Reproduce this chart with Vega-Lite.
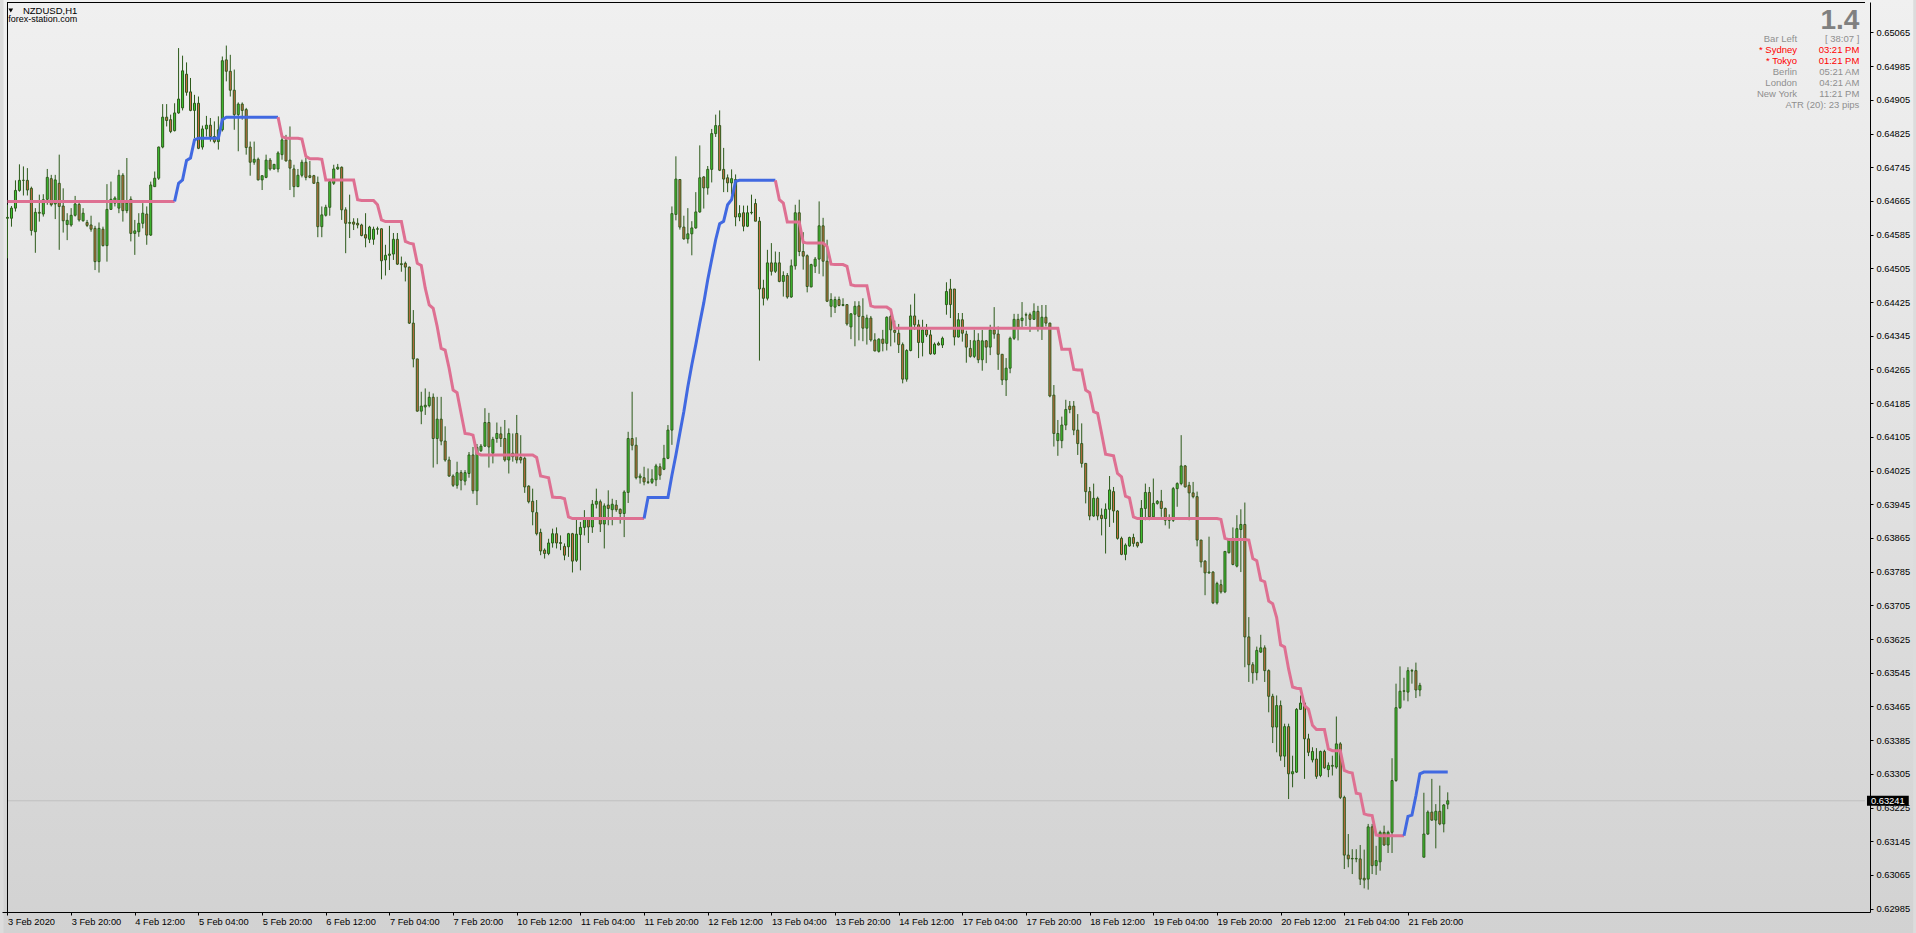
{"$schema":"https://vega.github.io/schema/vega-lite/v6.json","width":1868,"height":910,"autosize":{"type":"none"},"padding":{"left":2,"top":2,"right":46,"bottom":21},"background":"#DCDCDC","config":{"view":{"stroke":null},"axis":{"labelOverlap":false,"labelFlush":false,"labelBound":false,"grid":false,"zindex":1}},
"datasets":{"b":[
{"i":0,"o":0.64624,"h":0.64656,"l":0.64529,"c":0.64626},{"i":1,"o":0.64624,"h":0.64653,"l":0.64604,"c":0.64648},{"i":2,"o":0.64648,"h":0.64714,"l":0.6464,"c":0.6469},{"i":3,"o":0.6469,"h":0.64752,"l":0.64687,"c":0.64714},{"i":4,"o":0.64714,"h":0.64747,"l":0.64678,"c":0.64714},{"i":5,"o":0.64714,"h":0.64743,"l":0.64678,"c":0.64691},{"i":6,"o":0.64695,"h":0.64699,"l":0.64583,"c":0.64595},{"i":7,"o":0.64592,"h":0.64648,"l":0.64542,"c":0.64638},{"i":8,"o":0.64638,"h":0.6468,"l":0.64616,"c":0.64636},{"i":9,"o":0.64634,"h":0.64681,"l":0.64628,"c":0.64668},
{"i":10,"o":0.64669,"h":0.64741,"l":0.64656,"c":0.64721},{"i":11,"o":0.64718,"h":0.64727,"l":0.64652,"c":0.64656},{"i":12,"o":0.64658,"h":0.64727,"l":0.64622,"c":0.64715},{"i":13,"o":0.64707,"h":0.64775,"l":0.64549,"c":0.64652},{"i":14,"o":0.64653,"h":0.64695,"l":0.6459,"c":0.64618},{"i":15,"o":0.64609,"h":0.64636,"l":0.64572,"c":0.64619},{"i":16,"o":0.64608,"h":0.64648,"l":0.64604,"c":0.64631},{"i":17,"o":0.64631,"h":0.64677,"l":0.64628,"c":0.64658},{"i":18,"o":0.64657,"h":0.64664,"l":0.64616,"c":0.6462},{"i":19,"o":0.64618,"h":0.64648,"l":0.64616,"c":0.64636},
{"i":20,"o":0.64614,"h":0.6462,"l":0.64603,"c":0.64607},{"i":21,"o":0.64608,"h":0.6463,"l":0.64592,"c":0.64598},{"i":22,"o":0.646,"h":0.64606,"l":0.64501,"c":0.64521},{"i":23,"o":0.64521,"h":0.64614,"l":0.64495,"c":0.646},{"i":24,"o":0.64598,"h":0.64604,"l":0.64557,"c":0.64559},{"i":25,"o":0.64559,"h":0.64705,"l":0.64521,"c":0.64645},{"i":26,"o":0.64645,"h":0.64711,"l":0.64644,"c":0.64669},{"i":27,"o":0.6466,"h":0.64676,"l":0.64652,"c":0.64672},{"i":28,"o":0.64648,"h":0.64739,"l":0.64636,"c":0.64726},{"i":29,"o":0.64726,"h":0.64731,"l":0.64616,"c":0.64642},
{"i":30,"o":0.64642,"h":0.64767,"l":0.64636,"c":0.6466},{"i":31,"o":0.64669,"h":0.64676,"l":0.64569,"c":0.64588},{"i":32,"o":0.64588,"h":0.6462,"l":0.64537,"c":0.64594},{"i":33,"o":0.64592,"h":0.64636,"l":0.6458,"c":0.64612},{"i":34,"o":0.64612,"h":0.6466,"l":0.646,"c":0.64636},{"i":35,"o":0.64634,"h":0.64652,"l":0.64561,"c":0.64584},{"i":36,"o":0.64584,"h":0.64711,"l":0.64582,"c":0.64703},{"i":37,"o":0.64699,"h":0.64735,"l":0.64699,"c":0.64719},{"i":38,"o":0.64719,"h":0.64794,"l":0.64715,"c":0.64793},{"i":39,"o":0.64793,"h":0.64895,"l":0.6479,"c":0.64864},
{"i":40,"o":0.64864,"h":0.64895,"l":0.64842,"c":0.64856},{"i":41,"o":0.64858,"h":0.6487,"l":0.64826,"c":0.6483},{"i":42,"o":0.64832,"h":0.64897,"l":0.6483,"c":0.64874},{"i":43,"o":0.64874,"h":0.65028,"l":0.64872,"c":0.64907},{"i":44,"o":0.64886,"h":0.6501,"l":0.6488,"c":0.64974},{"i":45,"o":0.64966,"h":0.64994,"l":0.64915,"c":0.64923},{"i":46,"o":0.64924,"h":0.64957,"l":0.64878,"c":0.6488},{"i":47,"o":0.6488,"h":0.64917,"l":0.64814,"c":0.64897},{"i":48,"o":0.64897,"h":0.64913,"l":0.64788,"c":0.6479},{"i":49,"o":0.64793,"h":0.64844,"l":0.64787,"c":0.64836},
{"i":50,"o":0.64836,"h":0.64867,"l":0.64818,"c":0.64845},{"i":51,"o":0.64845,"h":0.64862,"l":0.64806,"c":0.64818},{"i":52,"o":0.64818,"h":0.64854,"l":0.64802,"c":0.64806},{"i":53,"o":0.64806,"h":0.64866,"l":0.64787,"c":0.64834},{"i":54,"o":0.64834,"h":0.65008,"l":0.6483,"c":0.64998},{"i":55,"o":0.65,"h":0.65034,"l":0.64949,"c":0.64973},{"i":56,"o":0.64973,"h":0.65012,"l":0.64913,"c":0.64928},{"i":57,"o":0.64928,"h":0.64977,"l":0.64834,"c":0.6487},{"i":58,"o":0.6487,"h":0.64899,"l":0.64783,"c":0.64895},{"i":59,"o":0.64895,"h":0.64899,"l":0.64858,"c":0.6488},
{"i":60,"o":0.64882,"h":0.64886,"l":0.64775,"c":0.64792},{"i":61,"o":0.64793,"h":0.64806,"l":0.64725,"c":0.64757},{"i":62,"o":0.64757,"h":0.64806,"l":0.64751,"c":0.64764},{"i":63,"o":0.64764,"h":0.64768,"l":0.64714,"c":0.64715},{"i":64,"o":0.64715,"h":0.64725,"l":0.64691,"c":0.64725},{"i":65,"o":0.64721,"h":0.64775,"l":0.64719,"c":0.64762},{"i":66,"o":0.64762,"h":0.64767,"l":0.64737,"c":0.64741},{"i":67,"o":0.64741,"h":0.64752,"l":0.64739,"c":0.64752},{"i":68,"o":0.64741,"h":0.64783,"l":0.64733,"c":0.64779},{"i":69,"o":0.64775,"h":0.64818,"l":0.64763,"c":0.6481},
{"i":70,"o":0.6481,"h":0.64822,"l":0.64759,"c":0.6476},{"i":71,"o":0.64762,"h":0.64842,"l":0.64691,"c":0.64743},{"i":72,"o":0.64741,"h":0.64751,"l":0.64674,"c":0.64699},{"i":73,"o":0.64699,"h":0.64741,"l":0.64698,"c":0.64726},{"i":74,"o":0.64726,"h":0.64763,"l":0.64721,"c":0.64757},{"i":75,"o":0.64757,"h":0.64767,"l":0.64714,"c":0.64721},{"i":76,"o":0.64725,"h":0.6476,"l":0.64719,"c":0.64721},{"i":77,"o":0.64725,"h":0.64727,"l":0.64706,"c":0.64707},{"i":78,"o":0.64709,"h":0.64723,"l":0.64579,"c":0.64604},{"i":79,"o":0.64604,"h":0.64652,"l":0.64579,"c":0.64632},
{"i":80,"o":0.64631,"h":0.64656,"l":0.64628,"c":0.6465},{"i":81,"o":0.6465,"h":0.64715,"l":0.6463,"c":0.64711},{"i":82,"o":0.64707,"h":0.64751,"l":0.64703,"c":0.64741},{"i":83,"o":0.64741,"h":0.64753,"l":0.64739,"c":0.64745},{"i":84,"o":0.64745,"h":0.64747,"l":0.6462,"c":0.64644},{"i":85,"o":0.64644,"h":0.6465,"l":0.64541,"c":0.64612},{"i":86,"o":0.64612,"h":0.6468,"l":0.64577,"c":0.64614},{"i":87,"o":0.64615,"h":0.64624,"l":0.64596,"c":0.6461},{"i":88,"o":0.64612,"h":0.64624,"l":0.646,"c":0.64608},{"i":89,"o":0.64608,"h":0.64611,"l":0.64581,"c":0.64583},
{"i":90,"o":0.64585,"h":0.64636,"l":0.64555,"c":0.64577},{"i":91,"o":0.64574,"h":0.64606,"l":0.64565,"c":0.64603},{"i":92,"o":0.64574,"h":0.64604,"l":0.64561,"c":0.64598},{"i":93,"o":0.64598,"h":0.64604,"l":0.64585,"c":0.64599},{"i":94,"o":0.64599,"h":0.646,"l":0.64479,"c":0.64523},{"i":95,"o":0.64525,"h":0.64561,"l":0.64488,"c":0.64536},{"i":96,"o":0.64536,"h":0.64606,"l":0.64501,"c":0.64539},{"i":97,"o":0.64539,"h":0.64589,"l":0.64525,"c":0.64574},{"i":98,"o":0.64574,"h":0.64589,"l":0.64513,"c":0.64515},{"i":99,"o":0.64516,"h":0.64533,"l":0.64497,"c":0.64514},
{"i":100,"o":0.64517,"h":0.64521,"l":0.64474,"c":0.64508},{"i":101,"o":0.64508,"h":0.64509,"l":0.64373,"c":0.64375},{"i":102,"o":0.64375,"h":0.64406,"l":0.6427,"c":0.6429},{"i":103,"o":0.6429,"h":0.6429,"l":0.64165,"c":0.64166},{"i":104,"o":0.64166,"h":0.64212,"l":0.64135,"c":0.64178},{"i":105,"o":0.64176,"h":0.6422,"l":0.64157,"c":0.6418},{"i":106,"o":0.64179,"h":0.64212,"l":0.64175,"c":0.64199},{"i":107,"o":0.64199,"h":0.64208,"l":0.64032,"c":0.64101},{"i":108,"o":0.64101,"h":0.642,"l":0.6404,"c":0.64147},{"i":109,"o":0.64147,"h":0.642,"l":0.64085,"c":0.64095},
{"i":110,"o":0.64095,"h":0.6413,"l":0.64046,"c":0.6405},{"i":111,"o":0.6405,"h":0.64058,"l":0.6401,"c":0.64012},{"i":112,"o":0.64012,"h":0.64016,"l":0.63986,"c":0.6399},{"i":113,"o":0.6399,"h":0.64046,"l":0.63982,"c":0.6402},{"i":114,"o":0.6402,"h":0.64026,"l":0.63978,"c":0.64002},{"i":115,"o":0.64,"h":0.64026,"l":0.6399,"c":0.6402},{"i":116,"o":0.64018,"h":0.64069,"l":0.64008,"c":0.64062},{"i":117,"o":0.64062,"h":0.64081,"l":0.6397,"c":0.63977},{"i":118,"o":0.63977,"h":0.64088,"l":0.63943,"c":0.6408},{"i":119,"o":0.64072,"h":0.64088,"l":0.64069,"c":0.64083},
{"i":120,"o":0.64083,"h":0.64173,"l":0.64081,"c":0.64139},{"i":121,"o":0.64139,"h":0.64162,"l":0.64032,"c":0.64081},{"i":122,"o":0.64066,"h":0.64105,"l":0.64042,"c":0.64099},{"i":123,"o":0.64101,"h":0.64139,"l":0.64091,"c":0.64113},{"i":124,"o":0.64112,"h":0.64129,"l":0.64081,"c":0.64101},{"i":125,"o":0.64101,"h":0.64145,"l":0.64046,"c":0.6405},{"i":126,"o":0.6405,"h":0.64125,"l":0.64018,"c":0.64113},{"i":127,"o":0.64066,"h":0.64113,"l":0.64046,"c":0.64058},{"i":128,"o":0.64113,"h":0.64157,"l":0.64042,"c":0.6405},{"i":129,"o":0.64056,"h":0.64109,"l":0.64042,"c":0.6405},
{"i":130,"o":0.64054,"h":0.64058,"l":0.63972,"c":0.63986},{"i":131,"o":0.63988,"h":0.6399,"l":0.63947,"c":0.63951},{"i":132,"o":0.63952,"h":0.63982,"l":0.63895,"c":0.63927},{"i":133,"o":0.63925,"h":0.63955,"l":0.63871,"c":0.63875},{"i":134,"o":0.63878,"h":0.63887,"l":0.63824,"c":0.63834},{"i":135,"o":0.63836,"h":0.6384,"l":0.63816,"c":0.63828},{"i":136,"o":0.63828,"h":0.63863,"l":0.63824,"c":0.63853},{"i":137,"o":0.63853,"h":0.63887,"l":0.63842,"c":0.63875},{"i":138,"o":0.63875,"h":0.6389,"l":0.6384,"c":0.63853},{"i":139,"o":0.63854,"h":0.63871,"l":0.63836,"c":0.63852},
{"i":140,"o":0.63845,"h":0.63852,"l":0.63812,"c":0.63824},{"i":141,"o":0.63844,"h":0.63877,"l":0.6382,"c":0.63875},{"i":142,"o":0.63875,"h":0.63877,"l":0.63783,"c":0.6381},{"i":143,"o":0.63812,"h":0.63909,"l":0.63808,"c":0.63874},{"i":144,"o":0.63873,"h":0.63903,"l":0.63788,"c":0.6389},{"i":145,"o":0.6389,"h":0.63931,"l":0.63871,"c":0.63909},{"i":146,"o":0.63909,"h":0.63911,"l":0.63853,"c":0.63891},{"i":147,"o":0.63891,"h":0.63955,"l":0.63877,"c":0.63945},{"i":148,"o":0.63945,"h":0.63982,"l":0.63935,"c":0.63952},{"i":149,"o":0.63951,"h":0.63956,"l":0.63879,"c":0.63898},
{"i":150,"o":0.63898,"h":0.63947,"l":0.6384,"c":0.63941},{"i":151,"o":0.63943,"h":0.63978,"l":0.63895,"c":0.63935},{"i":152,"o":0.63932,"h":0.63958,"l":0.63895,"c":0.63945},{"i":153,"o":0.63943,"h":0.63955,"l":0.63927,"c":0.63932},{"i":154,"o":0.63933,"h":0.63935,"l":0.63899,"c":0.63923},{"i":155,"o":0.63923,"h":0.63978,"l":0.63867,"c":0.63974},{"i":156,"o":0.63973,"h":0.64117,"l":0.63948,"c":0.64101},{"i":157,"o":0.64101,"h":0.64212,"l":0.64073,"c":0.64085},{"i":158,"o":0.64085,"h":0.64104,"l":0.64004,"c":0.64008},{"i":159,"o":0.64008,"h":0.64018,"l":0.63994,"c":0.64012},
{"i":160,"o":0.64008,"h":0.64034,"l":0.6399,"c":0.63998},{"i":161,"o":0.63998,"h":0.6403,"l":0.63993,"c":0.63997},{"i":162,"o":0.63997,"h":0.64028,"l":0.63993,"c":0.64005},{"i":163,"o":0.64003,"h":0.64041,"l":0.63988,"c":0.64036},{"i":164,"o":0.64034,"h":0.64042,"l":0.64003,"c":0.64014},{"i":165,"o":0.64028,"h":0.64086,"l":0.64026,"c":0.64054},{"i":166,"o":0.64054,"h":0.64133,"l":0.64052,"c":0.64121},{"i":167,"o":0.64121,"h":0.64652,"l":0.64086,"c":0.64635},{"i":168,"o":0.64633,"h":0.64771,"l":0.64619,"c":0.64717},{"i":169,"o":0.64716,"h":0.64717,"l":0.64597,"c":0.64603},
{"i":170,"o":0.64603,"h":0.6463,"l":0.64573,"c":0.64575},{"i":171,"o":0.64575,"h":0.64648,"l":0.64564,"c":0.64587},{"i":172,"o":0.64587,"h":0.64617,"l":0.64536,"c":0.64601},{"i":173,"o":0.64601,"h":0.64686,"l":0.64599,"c":0.64639},{"i":174,"o":0.64639,"h":0.64797,"l":0.64637,"c":0.6472},{"i":175,"o":0.64722,"h":0.64724,"l":0.64647,"c":0.64696},{"i":176,"o":0.64696,"h":0.64748,"l":0.6468,"c":0.6474},{"i":177,"o":0.6474,"h":0.64836,"l":0.64709,"c":0.64825},{"i":178,"o":0.64825,"h":0.6487,"l":0.64817,"c":0.64844},{"i":179,"o":0.64844,"h":0.6488,"l":0.64736,"c":0.64738},
{"i":180,"o":0.6474,"h":0.64791,"l":0.64686,"c":0.64717},{"i":181,"o":0.6472,"h":0.64728,"l":0.64686,"c":0.64708},{"i":182,"o":0.64708,"h":0.6474,"l":0.6468,"c":0.64718},{"i":183,"o":0.64716,"h":0.64728,"l":0.64605,"c":0.64627},{"i":184,"o":0.64627,"h":0.64655,"l":0.64617,"c":0.64635},{"i":185,"o":0.64637,"h":0.64654,"l":0.64593,"c":0.64605},{"i":186,"o":0.64605,"h":0.64654,"l":0.64603,"c":0.64637},{"i":187,"o":0.64637,"h":0.6468,"l":0.64633,"c":0.64638},{"i":188,"o":0.64659,"h":0.6467,"l":0.64617,"c":0.64617},{"i":189,"o":0.64617,"h":0.64627,"l":0.64286,"c":0.64456},
{"i":190,"o":0.64458,"h":0.64478,"l":0.64417,"c":0.64434},{"i":191,"o":0.64434,"h":0.64549,"l":0.64429,"c":0.64518},{"i":192,"o":0.64518,"h":0.64565,"l":0.64488,"c":0.64498},{"i":193,"o":0.64498,"h":0.64545,"l":0.64494,"c":0.64518},{"i":194,"o":0.64518,"h":0.64544,"l":0.64472,"c":0.64474},{"i":195,"o":0.64474,"h":0.64498,"l":0.64438,"c":0.64488},{"i":196,"o":0.64488,"h":0.64494,"l":0.64433,"c":0.64437},{"i":197,"o":0.64437,"h":0.64526,"l":0.64435,"c":0.64511},{"i":198,"o":0.64511,"h":0.64656,"l":0.64502,"c":0.64637},{"i":199,"o":0.64637,"h":0.64668,"l":0.64534,"c":0.64545},
{"i":200,"o":0.64545,"h":0.64591,"l":0.64502,"c":0.64534},{"i":201,"o":0.64535,"h":0.64538,"l":0.64448,"c":0.64462},{"i":202,"o":0.64461,"h":0.64516,"l":0.6446,"c":0.64514},{"i":203,"o":0.6451,"h":0.64532,"l":0.64494,"c":0.64527},{"i":204,"o":0.64527,"h":0.64664,"l":0.64492,"c":0.64606},{"i":205,"o":0.64606,"h":0.64625,"l":0.64486,"c":0.64522},{"i":206,"o":0.64522,"h":0.64573,"l":0.64425,"c":0.64427},{"i":207,"o":0.64415,"h":0.64446,"l":0.64389,"c":0.64431},{"i":208,"o":0.64413,"h":0.64438,"l":0.64399,"c":0.64431},{"i":209,"o":0.64431,"h":0.64438,"l":0.64415,"c":0.64417},
{"i":210,"o":0.64417,"h":0.64434,"l":0.64415,"c":0.64419},{"i":211,"o":0.64419,"h":0.64419,"l":0.64369,"c":0.64373},{"i":212,"o":0.64366,"h":0.64399,"l":0.64337,"c":0.64397},{"i":213,"o":0.64396,"h":0.64427,"l":0.6432,"c":0.64415},{"i":214,"o":0.64416,"h":0.64427,"l":0.64334,"c":0.64391},{"i":215,"o":0.64391,"h":0.64434,"l":0.64332,"c":0.64363},{"i":216,"o":0.64363,"h":0.64395,"l":0.64324,"c":0.64387},{"i":217,"o":0.64387,"h":0.64392,"l":0.64331,"c":0.64335},{"i":218,"o":0.64335,"h":0.64351,"l":0.64308,"c":0.64309},{"i":219,"o":0.64308,"h":0.64339,"l":0.64305,"c":0.64337},
{"i":220,"o":0.64337,"h":0.64359,"l":0.64308,"c":0.64327},{"i":221,"o":0.64327,"h":0.64391,"l":0.6431,"c":0.64389},{"i":222,"o":0.64391,"h":0.64396,"l":0.6432,"c":0.64359},{"i":223,"o":0.64358,"h":0.64381,"l":0.64329,"c":0.64353},{"i":224,"o":0.64351,"h":0.64373,"l":0.64304,"c":0.64324},{"i":225,"o":0.64324,"h":0.64329,"l":0.64232,"c":0.64242},{"i":226,"o":0.64242,"h":0.64313,"l":0.64236,"c":0.6431},{"i":227,"o":0.6431,"h":0.64419,"l":0.64308,"c":0.64392},{"i":228,"o":0.64392,"h":0.64445,"l":0.64359,"c":0.64371},{"i":229,"o":0.64371,"h":0.64383,"l":0.64292,"c":0.64329},
{"i":230,"o":0.64329,"h":0.64383,"l":0.64296,"c":0.64359},{"i":231,"o":0.64359,"h":0.64373,"l":0.64342,"c":0.64347},{"i":232,"o":0.64347,"h":0.64359,"l":0.643,"c":0.64302},{"i":233,"o":0.64302,"h":0.64329,"l":0.643,"c":0.64325},{"i":234,"o":0.64327,"h":0.64331,"l":0.64322,"c":0.64323},{"i":235,"o":0.64323,"h":0.64343,"l":0.64316,"c":0.64339},{"i":236,"o":0.64419,"h":0.64472,"l":0.64395,"c":0.6445},{"i":237,"o":0.64456,"h":0.6448,"l":0.64387,"c":0.64419},{"i":238,"o":0.64456,"h":0.64456,"l":0.64322,"c":0.64342},{"i":239,"o":0.64342,"h":0.64399,"l":0.64341,"c":0.64383},
{"i":240,"o":0.64383,"h":0.64399,"l":0.64331,"c":0.64351},{"i":241,"o":0.64349,"h":0.64357,"l":0.64281,"c":0.64318},{"i":242,"o":0.64315,"h":0.64335,"l":0.64293,"c":0.64296},{"i":243,"o":0.64296,"h":0.64359,"l":0.64292,"c":0.64333},{"i":244,"o":0.64334,"h":0.64351,"l":0.6428,"c":0.64288},{"i":245,"o":0.64288,"h":0.64359,"l":0.64262,"c":0.64333},{"i":246,"o":0.64333,"h":0.64335,"l":0.6428,"c":0.64318},{"i":247,"o":0.64318,"h":0.64371,"l":0.64299,"c":0.64359},{"i":248,"o":0.64359,"h":0.64413,"l":0.64338,"c":0.64349},{"i":249,"o":0.64349,"h":0.64367,"l":0.64264,"c":0.64301},
{"i":250,"o":0.64301,"h":0.64301,"l":0.64228,"c":0.6424},{"i":251,"o":0.6424,"h":0.64292,"l":0.64202,"c":0.64268},{"i":252,"o":0.64268,"h":0.64343,"l":0.64256,"c":0.64339},{"i":253,"o":0.64339,"h":0.64397,"l":0.64335,"c":0.64384},{"i":254,"o":0.64384,"h":0.64397,"l":0.64334,"c":0.64365},{"i":255,"o":0.64381,"h":0.64425,"l":0.64365,"c":0.64387},{"i":256,"o":0.64395,"h":0.644,"l":0.64368,"c":0.64394},{"i":257,"o":0.64395,"h":0.644,"l":0.64354,"c":0.64384},{"i":258,"o":0.64384,"h":0.64422,"l":0.64383,"c":0.64403},{"i":259,"o":0.64403,"h":0.64416,"l":0.64355,"c":0.64365},
{"i":260,"o":0.64365,"h":0.64418,"l":0.64335,"c":0.64389},{"i":261,"o":0.64389,"h":0.64418,"l":0.64367,"c":0.64375},{"i":262,"o":0.64375,"h":0.64376,"l":0.64199,"c":0.64202},{"i":263,"o":0.64204,"h":0.64228,"l":0.64082,"c":0.64113},{"i":264,"o":0.64096,"h":0.64145,"l":0.6406,"c":0.64113},{"i":265,"o":0.64096,"h":0.64153,"l":0.64078,"c":0.64133},{"i":266,"o":0.64133,"h":0.64193,"l":0.64121,"c":0.6417},{"i":267,"o":0.64178,"h":0.6419,"l":0.64161,"c":0.6417},{"i":268,"o":0.64178,"h":0.6419,"l":0.64109,"c":0.64121},{"i":269,"o":0.64121,"h":0.64159,"l":0.64062,"c":0.64089},
{"i":270,"o":0.64089,"h":0.64137,"l":0.64032,"c":0.64042},{"i":271,"o":0.64042,"h":0.64042,"l":0.63947,"c":0.63975},{"i":272,"o":0.63975,"h":0.63986,"l":0.63907,"c":0.63917},{"i":273,"o":0.63917,"h":0.63994,"l":0.63915,"c":0.63959},{"i":274,"o":0.63959,"h":0.63963,"l":0.63907,"c":0.63917},{"i":275,"o":0.63919,"h":0.63935,"l":0.63871,"c":0.63911},{"i":276,"o":0.63911,"h":0.63947,"l":0.63828,"c":0.63933},{"i":277,"o":0.63933,"h":0.64012,"l":0.63891,"c":0.63979},{"i":278,"o":0.63975,"h":0.63986,"l":0.63901,"c":0.63929},{"i":279,"o":0.63929,"h":0.63931,"l":0.63861,"c":0.63864},
{"i":280,"o":0.63864,"h":0.63868,"l":0.63824,"c":0.63826},{"i":281,"o":0.63826,"h":0.63852,"l":0.63812,"c":0.63848},{"i":282,"o":0.63846,"h":0.63868,"l":0.63844,"c":0.63866},{"i":283,"o":0.63866,"h":0.63875,"l":0.63844,"c":0.63852},{"i":284,"o":0.63854,"h":0.63856,"l":0.63842,"c":0.63846},{"i":285,"o":0.63854,"h":0.63955,"l":0.63852,"c":0.63935},{"i":286,"o":0.63935,"h":0.63994,"l":0.63907,"c":0.63973},{"i":287,"o":0.63973,"h":0.63986,"l":0.63907,"c":0.63915},{"i":288,"o":0.63915,"h":0.64006,"l":0.63911,"c":0.63947},{"i":289,"o":0.63947,"h":0.63955,"l":0.63944,"c":0.63952},
{"i":290,"o":0.63952,"h":0.63979,"l":0.63915,"c":0.63935},{"i":291,"o":0.63935,"h":0.63937,"l":0.63895,"c":0.63907},{"i":292,"o":0.63907,"h":0.63921,"l":0.63887,"c":0.63908},{"i":293,"o":0.63907,"h":0.63986,"l":0.63903,"c":0.63982},{"i":294,"o":0.63982,"h":0.63997,"l":0.63939,"c":0.63994},{"i":295,"o":0.63994,"h":0.64109,"l":0.6399,"c":0.64036},{"i":296,"o":0.64036,"h":0.64038,"l":0.63985,"c":0.63986},{"i":297,"o":0.6399,"h":0.63998,"l":0.63907,"c":0.63972},{"i":298,"o":0.63972,"h":0.63998,"l":0.63959,"c":0.63963},{"i":299,"o":0.63963,"h":0.63975,"l":0.63845,"c":0.6386},
{"i":300,"o":0.6386,"h":0.6386,"l":0.63795,"c":0.63808},{"i":301,"o":0.6381,"h":0.63812,"l":0.63729,"c":0.63782},{"i":302,"o":0.63782,"h":0.63868,"l":0.6378,"c":0.63784},{"i":303,"o":0.63784,"h":0.63786,"l":0.63708,"c":0.63711},{"i":304,"o":0.63711,"h":0.63761,"l":0.63707,"c":0.63757},{"i":305,"o":0.63754,"h":0.63766,"l":0.63733,"c":0.63737},{"i":306,"o":0.63737,"h":0.63833,"l":0.63734,"c":0.63833},{"i":307,"o":0.6383,"h":0.63864,"l":0.63828,"c":0.6386},{"i":308,"o":0.63864,"h":0.6389,"l":0.638,"c":0.63802},{"i":309,"o":0.63798,"h":0.63919,"l":0.63795,"c":0.63887},
{"i":310,"o":0.63885,"h":0.63933,"l":0.63784,"c":0.63897},{"i":311,"o":0.63897,"h":0.63949,"l":0.63558,"c":0.6363},{"i":312,"o":0.6363,"h":0.63677,"l":0.63523,"c":0.63564},{"i":313,"o":0.63564,"h":0.6357,"l":0.63519,"c":0.63545},{"i":314,"o":0.63545,"h":0.63607,"l":0.63527,"c":0.63598},{"i":315,"o":0.63594,"h":0.63635,"l":0.63592,"c":0.63604},{"i":316,"o":0.63604,"h":0.6361,"l":0.63523,"c":0.6355},{"i":317,"o":0.6355,"h":0.63553,"l":0.63451,"c":0.63489},{"i":318,"o":0.63489,"h":0.63495,"l":0.63378,"c":0.63416},{"i":319,"o":0.63416,"h":0.63491,"l":0.63356,"c":0.63467},
{"i":320,"o":0.63467,"h":0.63479,"l":0.63336,"c":0.63347},{"i":321,"o":0.63347,"h":0.63424,"l":0.63321,"c":0.63417},{"i":322,"o":0.63417,"h":0.63424,"l":0.63245,"c":0.63305},{"i":323,"o":0.63305,"h":0.63348,"l":0.63273,"c":0.6331},{"i":324,"o":0.63309,"h":0.63461,"l":0.63307,"c":0.63458},{"i":325,"o":0.63458,"h":0.63491,"l":0.63458,"c":0.63473},{"i":326,"o":0.63473,"h":0.63475,"l":0.63293,"c":0.63388},{"i":327,"o":0.63388,"h":0.634,"l":0.63347,"c":0.63356},{"i":328,"o":0.63338,"h":0.63368,"l":0.63332,"c":0.63358},{"i":329,"o":0.6334,"h":0.63366,"l":0.63293,"c":0.63299},
{"i":330,"o":0.63301,"h":0.6336,"l":0.63297,"c":0.63358},{"i":331,"o":0.63358,"h":0.63362,"l":0.63317,"c":0.63319},{"i":332,"o":0.63315,"h":0.63332,"l":0.63297,"c":0.63325},{"i":333,"o":0.63323,"h":0.63348,"l":0.63301,"c":0.63325},{"i":334,"o":0.63321,"h":0.63441,"l":0.63317,"c":0.63376},{"i":335,"o":0.63376,"h":0.6338,"l":0.63245,"c":0.63249},{"i":336,"o":0.63249,"h":0.63253,"l":0.63079,"c":0.63112},{"i":337,"o":0.63112,"h":0.63162,"l":0.63083,"c":0.63103},{"i":338,"o":0.63104,"h":0.63126,"l":0.63067,"c":0.63103},{"i":339,"o":0.63103,"h":0.63126,"l":0.63095,"c":0.63104},
{"i":340,"o":0.63103,"h":0.63136,"l":0.63041,"c":0.63055},{"i":341,"o":0.63057,"h":0.63125,"l":0.63033,"c":0.63053},{"i":342,"o":0.63055,"h":0.63186,"l":0.6303,"c":0.63179},{"i":343,"o":0.63179,"h":0.63186,"l":0.63067,"c":0.63087},{"i":344,"o":0.63087,"h":0.63134,"l":0.63065,"c":0.63099},{"i":345,"o":0.63096,"h":0.6317,"l":0.63075,"c":0.63166},{"i":346,"o":0.63166,"h":0.63182,"l":0.63134,"c":0.63136},{"i":347,"o":0.63136,"h":0.6317,"l":0.63117,"c":0.63166},{"i":348,"o":0.63166,"h":0.63342,"l":0.63117,"c":0.63289},{"i":349,"o":0.63289,"h":0.63519,"l":0.63286,"c":0.63462},
{"i":350,"o":0.63462,"h":0.6356,"l":0.63459,"c":0.63501},{"i":351,"o":0.63501,"h":0.63533,"l":0.63479,"c":0.63502},{"i":352,"o":0.63499,"h":0.63558,"l":0.63477,"c":0.6355},{"i":353,"o":0.63549,"h":0.63554,"l":0.63519,"c":0.6355},{"i":354,"o":0.6355,"h":0.63569,"l":0.63485,"c":0.63504},{"i":355,"o":0.63504,"h":0.63521,"l":0.63489,"c":0.63515},{"i":356,"o":0.63107,"h":0.6326,"l":0.63107,"c":0.63162},{"i":357,"o":0.63162,"h":0.63218,"l":0.6316,"c":0.63214},{"i":358,"o":0.63214,"h":0.63293,"l":0.63194,"c":0.63195},{"i":359,"o":0.63195,"h":0.63233,"l":0.63128,"c":0.63216},
{"i":360,"o":0.63216,"h":0.63277,"l":0.63183,"c":0.63186},{"i":361,"o":0.63186,"h":0.63233,"l":0.63166,"c":0.63231},{"i":362,"o":0.63233,"h":0.63261,"l":0.63221,"c":0.63241}
],
"ind":[
{"i":0,"v":0.64664,"s":1},{"i":1,"v":0.64664,"s":1},{"i":2,"v":0.64664,"s":1},{"i":3,"v":0.64664,"s":1},{"i":4,"v":0.64664,"s":1},{"i":5,"v":0.64664,"s":1},{"i":6,"v":0.64664,"s":1},{"i":7,"v":0.64664,"s":1},{"i":8,"v":0.64664,"s":1},{"i":9,"v":0.64664,"s":1},{"i":10,"v":0.64664,"s":1},{"i":11,"v":0.64664,"s":1},{"i":12,"v":0.64664,"s":1},{"i":13,"v":0.64664,"s":1},{"i":14,"v":0.64664,"s":1},{"i":15,"v":0.64664,"s":1},{"i":16,"v":0.64664,"s":1},{"i":17,"v":0.64664,"s":1},{"i":18,"v":0.64664,"s":1},{"i":19,"v":0.64664,"s":1},{"i":20,"v":0.64664,"s":1},{"i":21,"v":0.64664,"s":1},{"i":22,"v":0.64664,"s":1},{"i":23,"v":0.64664,"s":1},{"i":24,"v":0.64664,"s":1},{"i":25,"v":0.64664,"s":1},{"i":26,"v":0.64664,"s":1},{"i":27,"v":0.64664,"s":1},{"i":28,"v":0.64664,"s":1},{"i":29,"v":0.64664,"s":1},{"i":30,"v":0.64664,"s":1},{"i":31,"v":0.64664,"s":1},{"i":32,"v":0.64664,"s":1},{"i":33,"v":0.64664,"s":1},{"i":34,"v":0.64664,"s":1},{"i":35,"v":0.64664,"s":1},{"i":36,"v":0.64664,"s":1},{"i":37,"v":0.64664,"s":1},{"i":38,"v":0.64664,"s":1},{"i":39,"v":0.64664,"s":1},{"i":40,"v":0.64664,"s":1},{"i":41,"v":0.64664,"s":1},{"i":42,"v":0.64664,"s":1},
{"i":42,"v":0.64664,"s":2},{"i":43,"v":0.64707,"s":2},{"i":44,"v":0.64715,"s":2},{"i":45,"v":0.64761,"s":2},{"i":46,"v":0.64767,"s":2},{"i":47,"v":0.6481,"s":2},{"i":48,"v":0.64814,"s":2},{"i":49,"v":0.64814,"s":2},{"i":50,"v":0.64814,"s":2},{"i":51,"v":0.64814,"s":2},{"i":52,"v":0.64814,"s":2},{"i":53,"v":0.64814,"s":2},{"i":54,"v":0.64858,"s":2},{"i":55,"v":0.64864,"s":2},{"i":56,"v":0.64864,"s":2},{"i":57,"v":0.64864,"s":2},{"i":58,"v":0.64864,"s":2},{"i":59,"v":0.64864,"s":2},{"i":60,"v":0.64864,"s":2},{"i":61,"v":0.64864,"s":2},{"i":62,"v":0.64864,"s":2},{"i":63,"v":0.64864,"s":2},{"i":64,"v":0.64864,"s":2},{"i":65,"v":0.64864,"s":2},{"i":66,"v":0.64864,"s":2},{"i":67,"v":0.64864,"s":2},{"i":68,"v":0.64864,"s":2},
{"i":68,"v":0.64864,"s":3},{"i":69,"v":0.64818,"s":3},{"i":70,"v":0.64814,"s":3},{"i":71,"v":0.64814,"s":3},{"i":72,"v":0.64814,"s":3},{"i":73,"v":0.64814,"s":3},{"i":74,"v":0.64812,"s":3},{"i":75,"v":0.64771,"s":3},{"i":76,"v":0.64765,"s":3},{"i":77,"v":0.64765,"s":3},{"i":78,"v":0.64765,"s":3},{"i":79,"v":0.64764,"s":3},{"i":80,"v":0.64715,"s":3},{"i":81,"v":0.64715,"s":3},{"i":82,"v":0.64715,"s":3},{"i":83,"v":0.64715,"s":3},{"i":84,"v":0.64715,"s":3},{"i":85,"v":0.64715,"s":3},{"i":86,"v":0.64715,"s":3},{"i":87,"v":0.64715,"s":3},{"i":88,"v":0.64668,"s":3},{"i":89,"v":0.64666,"s":3},{"i":90,"v":0.64666,"s":3},{"i":91,"v":0.64666,"s":3},{"i":92,"v":0.64666,"s":3},{"i":93,"v":0.64656,"s":3},{"i":94,"v":0.6462,"s":3},{"i":95,"v":0.64616,"s":3},{"i":96,"v":0.64616,"s":3},{"i":97,"v":0.64616,"s":3},{"i":98,"v":0.64616,"s":3},{"i":99,"v":0.64616,"s":3},{"i":100,"v":0.64569,"s":3},{"i":101,"v":0.64565,"s":3},{"i":102,"v":0.64563,"s":3},{"i":103,"v":0.64517,"s":3},{"i":104,"v":0.64512,"s":3},{"i":105,"v":0.64458,"s":3},{"i":106,"v":0.64418,"s":3},{"i":107,"v":0.6441,"s":3},{"i":108,"v":0.64367,"s":3},{"i":109,"v":0.64315,"s":3},{"i":110,"v":0.64311,"s":3},{"i":111,"v":0.64268,"s":3},{"i":112,"v":0.64216,"s":3},{"i":113,"v":0.6421,"s":3},{"i":114,"v":0.64161,"s":3},{"i":115,"v":0.64113,"s":3},{"i":116,"v":0.64112,"s":3},{"i":117,"v":0.64109,"s":3},{"i":118,"v":0.64066,"s":3},{"i":119,"v":0.64062,"s":3},{"i":120,"v":0.64062,"s":3},{"i":121,"v":0.64062,"s":3},{"i":122,"v":0.64062,"s":3},{"i":123,"v":0.64062,"s":3},{"i":124,"v":0.64062,"s":3},{"i":125,"v":0.64062,"s":3},{"i":126,"v":0.64062,"s":3},{"i":127,"v":0.64062,"s":3},{"i":128,"v":0.64062,"s":3},{"i":129,"v":0.64062,"s":3},{"i":130,"v":0.64062,"s":3},{"i":131,"v":0.64062,"s":3},{"i":132,"v":0.64062,"s":3},{"i":133,"v":0.64056,"s":3},{"i":134,"v":0.64012,"s":3},{"i":135,"v":0.6401,"s":3},{"i":136,"v":0.64008,"s":3},{"i":137,"v":0.63962,"s":3},{"i":138,"v":0.63961,"s":3},{"i":139,"v":0.63961,"s":3},{"i":140,"v":0.63958,"s":3},{"i":141,"v":0.63915,"s":3},{"i":142,"v":0.63911,"s":3},{"i":143,"v":0.63911,"s":3},{"i":144,"v":0.63911,"s":3},{"i":145,"v":0.63911,"s":3},{"i":146,"v":0.63911,"s":3},{"i":147,"v":0.63911,"s":3},{"i":148,"v":0.63911,"s":3},{"i":149,"v":0.63911,"s":3},{"i":150,"v":0.63911,"s":3},{"i":151,"v":0.63911,"s":3},{"i":152,"v":0.63911,"s":3},{"i":153,"v":0.63911,"s":3},{"i":154,"v":0.63911,"s":3},{"i":155,"v":0.63911,"s":3},{"i":156,"v":0.63911,"s":3},{"i":157,"v":0.63911,"s":3},{"i":158,"v":0.63911,"s":3},{"i":159,"v":0.63911,"s":3},{"i":160,"v":0.63911,"s":3},
{"i":160,"v":0.63911,"s":4},{"i":161,"v":0.63961,"s":4},{"i":162,"v":0.63961,"s":4},{"i":163,"v":0.63961,"s":4},{"i":164,"v":0.63961,"s":4},{"i":165,"v":0.63961,"s":4},{"i":166,"v":0.63961,"s":4},{"i":167,"v":0.64014,"s":4},{"i":168,"v":0.64062,"s":4},{"i":169,"v":0.64114,"s":4},{"i":170,"v":0.64165,"s":4},{"i":171,"v":0.64224,"s":4},{"i":172,"v":0.64276,"s":4},{"i":173,"v":0.64324,"s":4},{"i":174,"v":0.64375,"s":4},{"i":175,"v":0.64423,"s":4},{"i":176,"v":0.64478,"s":4},{"i":177,"v":0.64526,"s":4},{"i":178,"v":0.64573,"s":4},{"i":179,"v":0.64611,"s":4},{"i":180,"v":0.64617,"s":4},{"i":181,"v":0.64656,"s":4},{"i":182,"v":0.64668,"s":4},{"i":183,"v":0.64712,"s":4},{"i":184,"v":0.64714,"s":4},{"i":185,"v":0.64714,"s":4},{"i":186,"v":0.64714,"s":4},{"i":187,"v":0.64714,"s":4},{"i":188,"v":0.64714,"s":4},{"i":189,"v":0.64714,"s":4},{"i":190,"v":0.64714,"s":4},{"i":191,"v":0.64714,"s":4},{"i":192,"v":0.64714,"s":4},{"i":193,"v":0.64714,"s":4},
{"i":193,"v":0.64714,"s":5},{"i":194,"v":0.64668,"s":5},{"i":195,"v":0.6466,"s":5},{"i":196,"v":0.64615,"s":5},{"i":197,"v":0.64615,"s":5},{"i":198,"v":0.64615,"s":5},{"i":199,"v":0.64615,"s":5},{"i":200,"v":0.64567,"s":5},{"i":201,"v":0.64565,"s":5},{"i":202,"v":0.64565,"s":5},{"i":203,"v":0.64565,"s":5},{"i":204,"v":0.64565,"s":5},{"i":205,"v":0.64565,"s":5},{"i":206,"v":0.64557,"s":5},{"i":207,"v":0.64515,"s":5},{"i":208,"v":0.64514,"s":5},{"i":209,"v":0.64514,"s":5},{"i":210,"v":0.64514,"s":5},{"i":211,"v":0.6451,"s":5},{"i":212,"v":0.64466,"s":5},{"i":213,"v":0.64464,"s":5},{"i":214,"v":0.64464,"s":5},{"i":215,"v":0.64464,"s":5},{"i":216,"v":0.64464,"s":5},{"i":217,"v":0.64416,"s":5},{"i":218,"v":0.64413,"s":5},{"i":219,"v":0.64413,"s":5},{"i":220,"v":0.64413,"s":5},{"i":221,"v":0.64413,"s":5},{"i":222,"v":0.64407,"s":5},{"i":223,"v":0.64363,"s":5},{"i":224,"v":0.64363,"s":5},{"i":225,"v":0.64363,"s":5},{"i":226,"v":0.64363,"s":5},{"i":227,"v":0.64363,"s":5},{"i":228,"v":0.64363,"s":5},{"i":229,"v":0.64363,"s":5},{"i":230,"v":0.64363,"s":5},{"i":231,"v":0.64363,"s":5},{"i":232,"v":0.64363,"s":5},{"i":233,"v":0.64363,"s":5},{"i":234,"v":0.64363,"s":5},{"i":235,"v":0.64363,"s":5},{"i":236,"v":0.64363,"s":5},{"i":237,"v":0.64363,"s":5},{"i":238,"v":0.64363,"s":5},{"i":239,"v":0.64363,"s":5},{"i":240,"v":0.64363,"s":5},{"i":241,"v":0.64363,"s":5},{"i":242,"v":0.64363,"s":5},{"i":243,"v":0.64363,"s":5},{"i":244,"v":0.64363,"s":5},{"i":245,"v":0.64363,"s":5},{"i":246,"v":0.64363,"s":5},{"i":247,"v":0.64363,"s":5},{"i":248,"v":0.64363,"s":5},{"i":249,"v":0.64363,"s":5},{"i":250,"v":0.64363,"s":5},{"i":251,"v":0.64363,"s":5},{"i":252,"v":0.64363,"s":5},{"i":253,"v":0.64363,"s":5},{"i":254,"v":0.64363,"s":5},{"i":255,"v":0.64363,"s":5},{"i":256,"v":0.64363,"s":5},{"i":257,"v":0.64363,"s":5},{"i":258,"v":0.64363,"s":5},{"i":259,"v":0.64363,"s":5},{"i":260,"v":0.64363,"s":5},{"i":261,"v":0.64363,"s":5},{"i":262,"v":0.64363,"s":5},{"i":263,"v":0.64363,"s":5},{"i":264,"v":0.64363,"s":5},{"i":265,"v":0.64313,"s":5},{"i":266,"v":0.64313,"s":5},{"i":267,"v":0.64313,"s":5},{"i":268,"v":0.64265,"s":5},{"i":269,"v":0.64264,"s":5},{"i":270,"v":0.64264,"s":5},{"i":271,"v":0.64216,"s":5},{"i":272,"v":0.6421,"s":5},{"i":273,"v":0.64165,"s":5},{"i":274,"v":0.64161,"s":5},{"i":275,"v":0.64113,"s":5},{"i":276,"v":0.64064,"s":5},{"i":277,"v":0.64062,"s":5},{"i":278,"v":0.6406,"s":5},{"i":279,"v":0.64018,"s":5},{"i":280,"v":0.6401,"s":5},{"i":281,"v":0.63964,"s":5},{"i":282,"v":0.6396,"s":5},{"i":283,"v":0.63915,"s":5},{"i":284,"v":0.63911,"s":5},{"i":285,"v":0.63911,"s":5},{"i":286,"v":0.63911,"s":5},{"i":287,"v":0.63911,"s":5},{"i":288,"v":0.63911,"s":5},{"i":289,"v":0.63911,"s":5},{"i":290,"v":0.63911,"s":5},{"i":291,"v":0.63911,"s":5},{"i":292,"v":0.63911,"s":5},{"i":293,"v":0.63911,"s":5},{"i":294,"v":0.63911,"s":5},{"i":295,"v":0.63911,"s":5},{"i":296,"v":0.63911,"s":5},{"i":297,"v":0.63911,"s":5},{"i":298,"v":0.63911,"s":5},{"i":299,"v":0.63911,"s":5},{"i":300,"v":0.63911,"s":5},{"i":301,"v":0.63911,"s":5},{"i":302,"v":0.63911,"s":5},{"i":303,"v":0.63911,"s":5},{"i":304,"v":0.63911,"s":5},{"i":305,"v":0.63909,"s":5},{"i":306,"v":0.63864,"s":5},{"i":307,"v":0.63861,"s":5},{"i":308,"v":0.63861,"s":5},{"i":309,"v":0.63861,"s":5},{"i":310,"v":0.63861,"s":5},{"i":311,"v":0.63861,"s":5},{"i":312,"v":0.6386,"s":5},{"i":313,"v":0.63816,"s":5},{"i":314,"v":0.63811,"s":5},{"i":315,"v":0.63765,"s":5},{"i":316,"v":0.63761,"s":5},{"i":317,"v":0.63715,"s":5},{"i":318,"v":0.63709,"s":5},{"i":319,"v":0.63676,"s":5},{"i":320,"v":0.63611,"s":5},{"i":321,"v":0.63606,"s":5},{"i":322,"v":0.63554,"s":5},{"i":323,"v":0.63511,"s":5},{"i":324,"v":0.63508,"s":5},{"i":325,"v":0.63507,"s":5},{"i":326,"v":0.63467,"s":5},{"i":327,"v":0.63458,"s":5},{"i":328,"v":0.6342,"s":5},{"i":329,"v":0.6341,"s":5},{"i":330,"v":0.6341,"s":5},{"i":331,"v":0.6341,"s":5},{"i":332,"v":0.63364,"s":5},{"i":333,"v":0.6336,"s":5},{"i":334,"v":0.6336,"s":5},{"i":335,"v":0.6336,"s":5},{"i":336,"v":0.63313,"s":5},{"i":337,"v":0.63309,"s":5},{"i":338,"v":0.63307,"s":5},{"i":339,"v":0.63259,"s":5},{"i":340,"v":0.63257,"s":5},{"i":341,"v":0.6321,"s":5},{"i":342,"v":0.63207,"s":5},{"i":343,"v":0.63206,"s":5},{"i":344,"v":0.6316,"s":5},{"i":345,"v":0.63158,"s":5},{"i":346,"v":0.63158,"s":5},{"i":347,"v":0.63158,"s":5},{"i":348,"v":0.63158,"s":5},{"i":349,"v":0.63158,"s":5},{"i":350,"v":0.63158,"s":5},{"i":351,"v":0.63158,"s":5},
{"i":351,"v":0.63158,"s":6},{"i":352,"v":0.63204,"s":6},{"i":353,"v":0.63207,"s":6},{"i":354,"v":0.63253,"s":6},{"i":355,"v":0.63305,"s":6},{"i":356,"v":0.63309,"s":6},{"i":357,"v":0.63309,"s":6},{"i":358,"v":0.63309,"s":6},{"i":359,"v":0.63309,"s":6},{"i":360,"v":0.63309,"s":6},{"i":361,"v":0.63309,"s":6},{"i":362,"v":0.63309,"s":6}
]},
"layer":[
{"data":{"name":"b"},"mark":{"type":"rule","color":"#2D5A1B","strokeWidth":1,"opacity":0},
 "encoding":{
  "x":{"field":"i","type":"quantitative","scale":{"domain":[-0.125,466.875],"nice":false,"zero":false},
   "axis":{"values":[0,16,32,48,64,80,96,112,128,144,160,176,192,208,224,240,256,272,288,304,320,336,352],
    "labelExpr":"['3 Feb 2020','3 Feb 20:00','4 Feb 12:00','5 Feb 04:00','5 Feb 20:00','6 Feb 12:00','7 Feb 04:00','7 Feb 20:00','10 Feb 12:00','11 Feb 04:00','11 Feb 20:00','12 Feb 12:00','13 Feb 04:00','13 Feb 20:00','14 Feb 12:00','17 Feb 04:00','17 Feb 20:00','18 Feb 12:00','19 Feb 04:00','19 Feb 20:00','20 Feb 12:00','21 Feb 04:00','21 Feb 20:00'][round(datum.value/16)]",
    "title":null,"grid":false,"orient":"bottom","domain":true,"ticks":true,"labels":true,"domainColor":"#000000","domainWidth":1,"tickColor":"#000000","tickSize":3,"tickWidth":1,"labelColor":"#000000","labelFont":"Liberation Sans","labelFontSize":9.3,"labelAlign":"left","labelBaseline":"top","labelPadding":2,"labelOverlap":false,"labelFlush":false,"labelBound":false,"zindex":1}},
  "y":{"field":"l","type":"quantitative","scale":{"domain":[0.629769,0.651374],"nice":false,"zero":false},
   "axis":{"values":[0.65065,0.64985,0.64905,0.64825,0.64745,0.64665,0.64585,0.64505,0.64425,0.64345,0.64265,0.64185,0.64105,0.64025,0.63945,0.63865,0.63785,0.63705,0.63625,0.63545,0.63465,0.63385,0.63305,0.63225,0.63145,0.63065,0.62985],"tickCount":100,
    "format":".5f","title":null,"grid":false,"orient":"right","domain":true,"ticks":true,"labels":true,"domainColor":"#000000","domainWidth":1,"tickColor":"#000000","tickSize":3,"tickWidth":1,"labelColor":"#000000","labelFont":"Liberation Sans","labelFontSize":9.3,"labelAlign":"left","labelBaseline":"middle","labelPadding":3,"labelOverlap":false,"labelFlush":false,"labelBound":false,"zindex":1}},
  "y2":{"field":"h"}}},
{"data":{"values":[{}]},"mark":{"type":"rect","fill":{"gradient":"linear","x1":0,"y1":0,"x2":0,"y2":1,"stops":[{"offset":0,"color":"#F0F0F0"},{"offset":1,"color":"#D2D2D2"}]}},
 "encoding":{"x":{"datum":-1,"type":"quantitative"},"x2":{"datum":479},"y":{"datum":0.65145,"type":"quantitative"},"y2":{"datum":0.62925}}},
{"data":{"values":[{}]},"mark":{"type":"rule","color":"#C0C0C0","strokeWidth":1},
 "encoding":{"x":{"datum":-0.125,"type":"quantitative"},"x2":{"datum":466.875},"y":{"datum":0.63241,"type":"quantitative"}}},
{"data":{"values":[{}]},"mark":{"type":"rule","color":"#000000","strokeWidth":1},
 "encoding":{"x":{"datum":0,"type":"quantitative"},"y":{"datum":0.651374,"type":"quantitative"},"y2":{"datum":0.629769}}},
{"data":{"values":[{}]},"mark":{"type":"rule","color":"#000000","strokeWidth":1},
 "encoding":{"x":{"datum":-0.125,"type":"quantitative"},"x2":{"datum":466.875},"y":{"datum":0.651362,"type":"quantitative"}}},
{"data":{"name":"b"},"mark":{"type":"rule","color":"#2D5A1B","strokeWidth":1},
 "encoding":{"x":{"field":"i","type":"quantitative"},"y":{"field":"l","type":"quantitative"},"y2":{"field":"h"}}},
{"data":{"name":"b"},"mark":{"type":"bar","size":2,"stroke":"#2D5A1B","strokeWidth":1},
 "encoding":{"x":{"field":"i","type":"quantitative"},"y":{"field":"o","type":"quantitative"},"y2":{"field":"c"},
  "fill":{"condition":{"test":"datum.c>=datum.o","value":"#40C832"},"value":"#CC6E44"}}},
{"data":{"name":"ind"},"mark":{"type":"line","strokeWidth":3},
 "encoding":{"x":{"field":"i","type":"quantitative"},"y":{"field":"v","type":"quantitative"},
  "color":{"field":"s","type":"nominal","scale":{"domain":[1,2,3,4,5,6],"range":["#DE7092","#4169E1","#DE7092","#4169E1","#DE7092","#4169E1"]},"legend":null}}},
{"data":{"values":[{}]},"mark":{"type":"rect","color":"#000000"},
 "encoding":{"x":{"datum":467.375,"type":"quantitative"},"x2":{"datum":477.875},"y":{"datum":0.632529,"type":"quantitative"},"y2":{"datum":0.632291}}},
{"data":{"values":[{}]},"mark":{"type":"text","text":"0.63241","align":"left","baseline":"middle","font":"Liberation Sans","fontSize":9.3,"color":"#FFFFFF"},
 "encoding":{"x":{"datum":468.375,"type":"quantitative"},"y":{"datum":0.63241,"type":"quantitative"}}},
{"data":{"values":[{}]},"mark":{"type":"point","shape":"triangle-down","filled":true,"size":22,"color":"#000000","opacity":1},
 "encoding":{"x":{"datum":0.825,"type":"quantitative"},"y":{"datum":0.651172,"type":"quantitative"}}},
{"data":{"values":[{}]},"mark":{"type":"text","text":"NZDUSD,H1","align":"left","baseline":"middle","font":"Liberation Sans","fontSize":9.5,"color":"#000000"},
 "encoding":{"x":{"datum":3.875,"type":"quantitative"},"y":{"datum":0.651172,"type":"quantitative"}}},
{"data":{"values":[{}]},"mark":{"type":"text","text":"forex-station.com","align":"left","baseline":"middle","font":"Liberation Sans","fontSize":9,"color":"#000000"},
 "encoding":{"x":{"datum":0.2,"type":"quantitative"},"y":{"datum":0.650978,"type":"quantitative"}}},
{"data":{"values":[{}]},"mark":{"type":"text","text":"1.4","align":"right","baseline":"middle","font":"Liberation Sans","fontSize":28,"fontWeight":"bold","color":"#808080"},
 "encoding":{"x":{"datum":465.45,"type":"quantitative"},"y":{"datum":0.650916,"type":"quantitative"}}},
{"data":{"values":[{}]},"mark":{"type":"text","text":"Bar Left","align":"right","baseline":"top","font":"Liberation Sans","fontSize":9.5,"color":"#8F8F8F"},
 "encoding":{"x":{"datum":449.8,"type":"quantitative"},"y":{"datum":0.650605,"type":"quantitative"}}},
{"data":{"values":[{}]},"mark":{"type":"text","text":["* Sydney","* Tokyo"],"lineHeight":11,"align":"right","baseline":"top","font":"Liberation Sans","fontSize":9.5,"color":"#FF0000"},
 "encoding":{"x":{"datum":449.8,"type":"quantitative"},"y":{"datum":0.650344,"type":"quantitative"}}},
{"data":{"values":[{}]},"mark":{"type":"text","text":["Berlin","London","New York"],"lineHeight":11,"align":"right","baseline":"top","font":"Liberation Sans","fontSize":9.5,"color":"#8F8F8F"},
 "encoding":{"x":{"datum":449.8,"type":"quantitative"},"y":{"datum":0.649821,"type":"quantitative"}}},
{"data":{"values":[{}]},"mark":{"type":"text","text":"[ 38:07 ]","align":"right","baseline":"top","font":"Liberation Sans","fontSize":9.5,"color":"#8F8F8F"},
 "encoding":{"x":{"datum":465.45,"type":"quantitative"},"y":{"datum":0.650605,"type":"quantitative"}}},
{"data":{"values":[{}]},"mark":{"type":"text","text":["03:21 PM","01:21 PM"],"lineHeight":11,"align":"right","baseline":"top","font":"Liberation Sans","fontSize":9.5,"color":"#FF0000"},
 "encoding":{"x":{"datum":465.45,"type":"quantitative"},"y":{"datum":0.650344,"type":"quantitative"}}},
{"data":{"values":[{}]},"mark":{"type":"text","text":["05:21 AM","04:21 AM","11:21 PM","ATR (20): 23 pips"],"lineHeight":11,"align":"right","baseline":"top","font":"Liberation Sans","fontSize":9.5,"color":"#8F8F8F"},
 "encoding":{"x":{"datum":465.45,"type":"quantitative"},"y":{"datum":0.649821,"type":"quantitative"}}}
]}
